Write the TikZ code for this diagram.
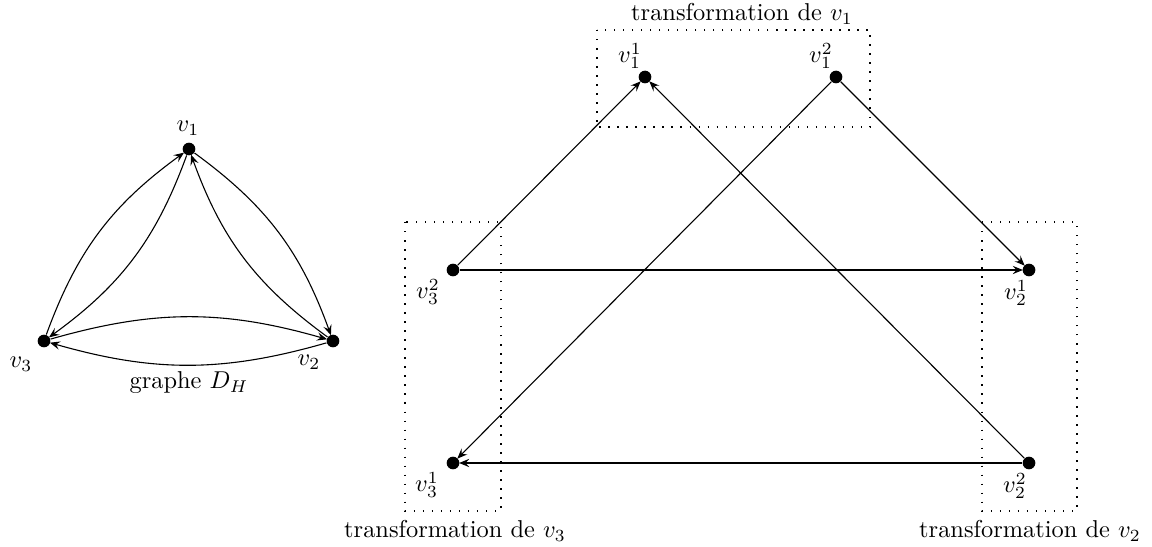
\documentclass[tikz,border=0pt]{standalone}
\usetikzlibrary{arrows.meta}
\begin{document}
\begin{tikzpicture}[x=0.41pt,y=-0.41pt,
  vtx/.style={circle,fill=black,inner sep=0pt,minimum size=5.2pt},
  lbl/.style={inner sep=0pt,font=\normalsize},
  arc/.style={-{Stealth[length=4.2pt,width=3.4pt,inset=1.6pt]},line width=0.45pt,shorten >=-0.3pt},
  box/.style={line width=0.6pt,dash pattern=on 0.6pt off 3.1pt}]
\useasboundingbox (0,0) rectangle (1152,547);
% left graph
\node[vtx] (a1) at (189,149) {};
\node[vtx] (a2) at (333,341) {};
\node[vtx] (a3) at (44,341) {};
\node[lbl] (la1) at (188,128) {$v_1$};
\node[lbl] (la2) at (309,362) {$v_2$};
\node[lbl] (la3) at (21,364) {$v_3$};
\node[lbl] (cap) at (189,383) {graphe $D_H$};
\draw[arc] (a3) to[bend left=17] (a1);
\draw[arc] (a1) to[bend left=17] (a3);
\draw[arc] (a1) to[bend left=17] (a2);
\draw[arc] (a2) to[bend left=17] (a1);
\draw[arc] (a3) to[bend left=16] (a2);
\draw[arc] (a2) to[bend left=16] (a3);
% right graph
\node[vtx] (b11) at (645,77) {};
\node[vtx] (b12) at (836,77) {};
\node[vtx] (b32) at (453,270) {};
\node[vtx] (b21) at (1029,270) {};
\node[vtx] (b31) at (453,463) {};
\node[vtx] (b22) at (1029,463) {};
\node[lbl] (l11) at (630,56) {$v_1^1$};
\node[lbl] (l12) at (821,56) {$v_1^2$};
\node[lbl] (l32) at (428,292) {$v_3^2$};
\node[lbl] (l21) at (1016,293) {$v_2^1$};
\node[lbl] (l31) at (427,485) {$v_3^1$};
\node[lbl] (l22) at (1015,486) {$v_2^2$};
\draw[box] (597,30) rectangle (870,127);
\draw[box] (405,222) rectangle (501,511);
\draw[box] (982,222) rectangle (1077,511);
\node[lbl] (t1) at (742,14) {transformation de $v_1$};
\node[lbl] (t3) at (455,531) {transformation de $v_3$};
\node[lbl] (t2) at (1030,531) {transformation de $v_2$};
\draw[arc] (b32) -- (b11);
\draw[arc] (b22) -- (b11);
\draw[arc] (b12) -- (b21);
\draw[arc] (b32) -- (b21);
\draw[arc] (b12) -- (b31);
\draw[arc] (b22) -- (b31);
\end{tikzpicture}
\end{document}
